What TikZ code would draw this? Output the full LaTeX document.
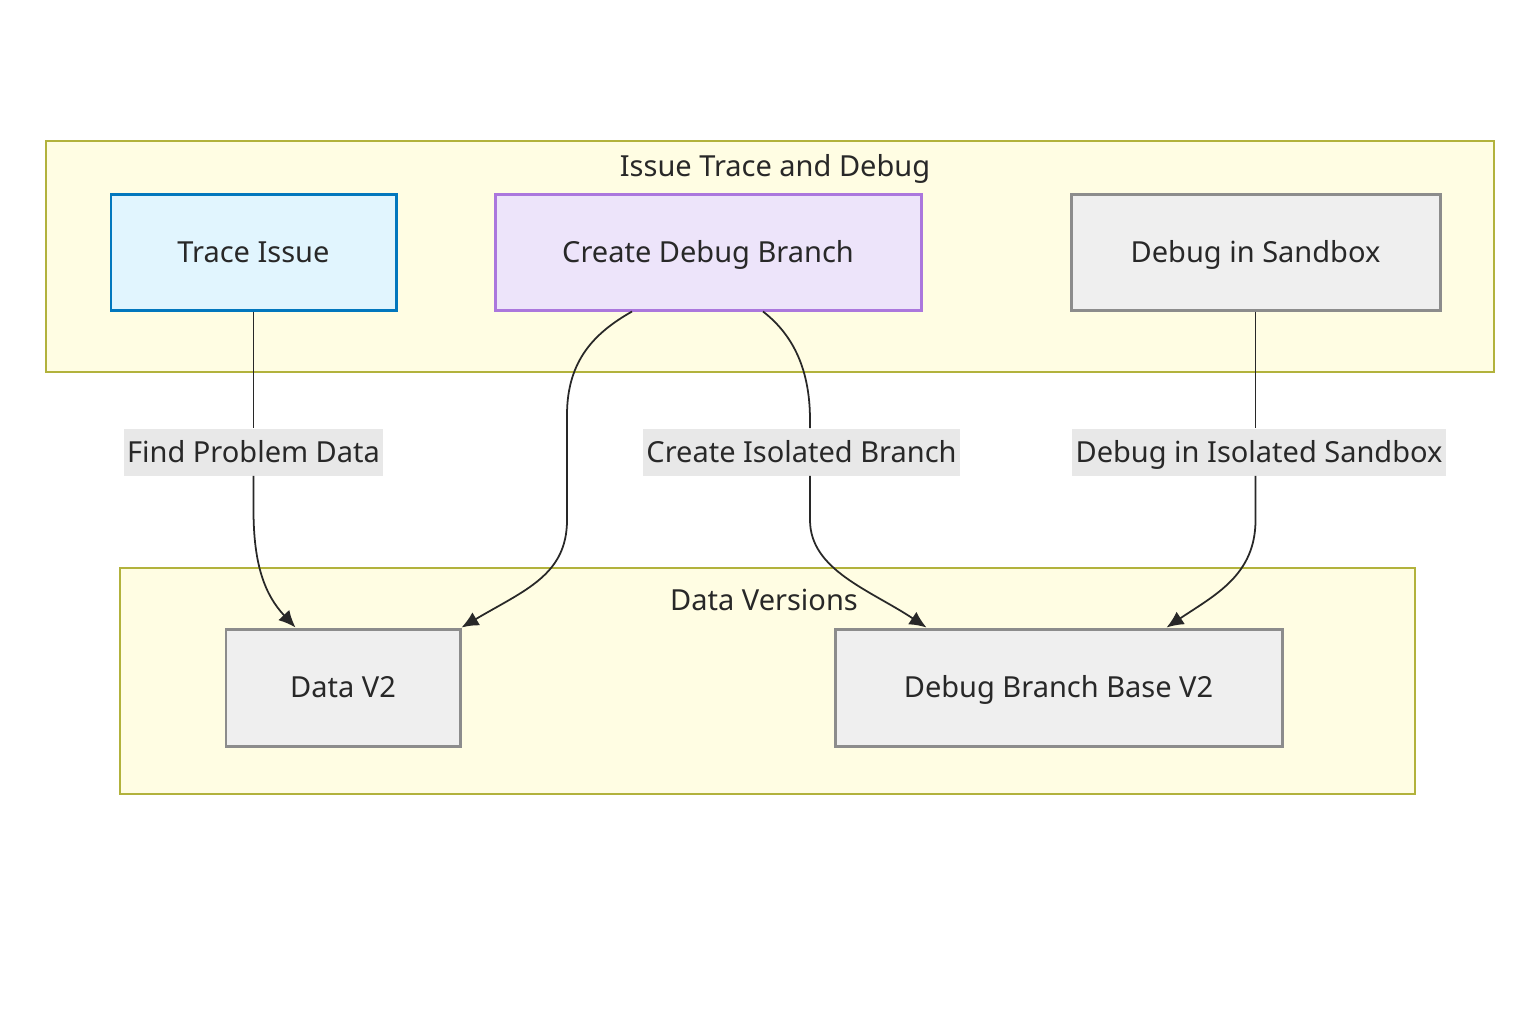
\documentclass[tikz,border=0pt]{standalone}
\usepackage{fontspec}
\setmainfont{Noto Sans}
\usepackage{tikz}
\usetikzlibrary{positioning}
\usetikzlibrary{arrows.meta}

\definecolor{clusterfill}{RGB}{255,253,227}
\definecolor{clusterline}{RGB}{178,178,60}
\definecolor{tracefill}{RGB}{225,245,254}
\definecolor{traceline}{RGB}{2,119,189}
\definecolor{branchfill}{RGB}{237,228,250}
\definecolor{branchline}{RGB}{171,119,221}
\definecolor{plainfill}{RGB}{239,239,239}
\definecolor{plainline}{RGB}{140,140,140}
\definecolor{labelfill}{RGB}{232,232,232}
\definecolor{inkcol}{RGB}{40,40,40}

\begin{document}
\begin{tikzpicture}[font=\fontsize{16.5}{20}\selectfont, text=inkcol]
    \tikzstyle{cluster} = [draw=clusterline, line width=1.1pt, fill=clusterfill];
    \tikzstyle{box} = [rectangle, line width=1.7pt, minimum height=2.32cm, inner sep=0pt, text height=2.25ex, text depth=0.05ex];
    \tikzstyle{trace-block} = [box, draw=traceline, fill=tracefill];
    \tikzstyle{branch-block} = [box, draw=branchline, fill=branchfill];
    \tikzstyle{plain-block} = [box, draw=plainline, fill=plainfill];
    \tikzstyle{edge-label} = [fill=labelfill, inner xsep=2pt, inner ysep=0pt, minimum height=0.94cm, text height=2.25ex, text depth=0.05ex];
    \tikzstyle{link} = [line width=1pt, draw=inkcol];
    \tikzstyle{pointer} = [link, -{Latex[length=3.4mm, width=3mm]}];

    \useasboundingbox [fill=white] (0,0) rectangle (30.72,-20.48);

    % subgraphs
    \draw [cluster] (0.92,-2.82) rectangle (29.88,-7.44);
    \node (title-trace) at (15.5,-3.38) {Issue Trace and Debug};
    \draw [cluster] (2.4,-11.36) rectangle (28.3,-15.88);
    \node (title-data) at (15.28,-12.0) {Data Versions};

    \node[trace-block, minimum width=5.7cm] (trace) at (5.07,-5.04) {Trace Issue};
    \node[branch-block, minimum width=8.52cm] (branch) at (14.16,-5.04) {Create Debug Branch};
    \node[plain-block, minimum width=7.38cm] (sandbox) at (25.11,-5.04) {Debug in Sandbox};

    \node[plain-block, minimum width=4.68cm, minimum height=2.34cm] (data-v2) at (6.86,-13.75) {Data V2};
    \node[plain-block, minimum width=8.94cm, minimum height=2.34cm] (base-v2) at (21.17,-13.75) {Debug Branch Base V2};

    \node[edge-label] (find) at (5.07,-9.04) {Find Problem Data};
    \node[edge-label] (isolate) at (16.03,-9.04) {Create Isolated Branch};
    \node[edge-label] (debug) at (25.18,-9.04) {Debug in Isolated Sandbox};

    \coordinate (data-in) at ([xshift=1.42cm]data-v2.north west);
    \coordinate (base-in-a) at ([xshift=1.86cm]base-v2.north west);
    \coordinate (base-in-b) at ([xshift=6.66cm]base-v2.north west);

    \draw [link] (trace.south) -- (find.north);
    \draw [pointer] (find.south) -- (5.07,-10.2)
        .. controls (5.07,-11.3) and (5.3,-11.9) .. (data-in);
    \draw [pointer] ([xshift=-1.52cm]branch.south)
        .. controls (11.9,-6.65) and (11.34,-7.2) .. (11.34,-8.3) -- (11.34,-10.4)
        .. controls (11.34,-11.5) and (10.5,-11.8) .. (data-v2.north east);
    \draw [link] ([xshift=1.1cm]branch.south)
        .. controls (15.8,-6.65) and (16.2,-7.3) .. (16.2,-8.4) -- (isolate.north -| 16.2,0);
    \draw [pointer] (isolate.south -| 16.2,0) -- (16.2,-10.4)
        .. controls (16.2,-11.4) and (17.4,-11.8) .. (base-in-a);
    \draw [link] (sandbox.south) -- (sandbox.south |- debug.north);
    \draw [pointer] (sandbox.south |- debug.south) -- (25.11,-10.4)
        .. controls (25.11,-11.5) and (24.3,-11.9) .. (base-in-b);
\end{tikzpicture}
\end{document}
